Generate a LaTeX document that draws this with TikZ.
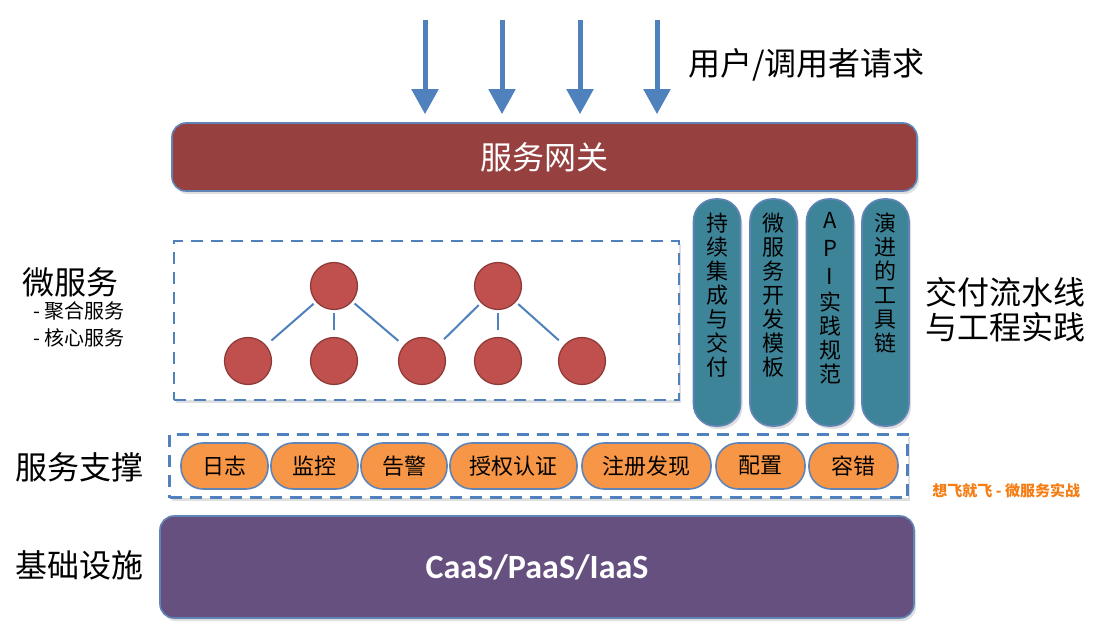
\documentclass[tikz,border=0pt]{standalone}
\usepackage{fontspec}
\setmainfont{Noto Sans CJK SC}
\newfontfamily\capfont{Carlito}
\usetikzlibrary{positioning, arrows.meta, shadows}
\definecolor{reqblue}{RGB}{79,129,189}
\definecolor{edgeblue}{RGB}{96,132,182}
\definecolor{gatered}{RGB}{150,64,64}
\definecolor{svcred}{RGB}{192,80,77}
\definecolor{svcdark}{RGB}{140,56,54}
\definecolor{laneteal}{RGB}{62,132,152}
\definecolor{toolorange}{RGB}{247,150,70}
\definecolor{infrapurple}{RGB}{101,80,127}
\definecolor{markorange}{RGB}{245,125,20}
\begin{document}
\begin{tikzpicture}[x = 0.5pt, y = -0.5pt,
    soft/.style = {drop shadow = {opacity = 0.25, shadow xshift = 1pt, shadow yshift = -1.5pt}},
    req/.style = {draw = reqblue, line width = 2.5pt, -{Triangle[width = 13pt, length = 12.5pt]}, shorten > = 4pt},
    gateway/.style = {soft, rounded corners = 7pt, fill = gatered, draw = edgeblue, line width = 0.8pt, text = white, font = \fontsize{16pt}{18pt}\selectfont},
    dashbox/.style = {soft, draw = reqblue, fill = white, line width = 1.1pt, dash pattern = on 6pt off 4pt},
    svc/.style = {circle, fill = svcred, draw = svcdark, line width = 0.6pt, minimum size = 23.5pt, inner sep = 0pt},
    link/.style = {draw = reqblue, line width = 1pt, shorten < = 1.5pt, shorten > = 3.5pt},
    lane/.style = {soft, rounded corners = 11pt, fill = laneteal, draw = edgeblue, line width = 0.8pt, minimum width = 23.5pt, minimum height = 113.5pt},
    lanetext/.style = {font = \fontsize{11pt}{12pt}\selectfont, align = center, inner sep = 0pt},
    tool/.style = {rounded corners = 11pt, fill = toolorange, draw = edgeblue, line width = 0.8pt, minimum height = 23pt, inner sep = 0pt, font = \fontsize{11pt}{13pt}\selectfont},
    infra/.style = {soft, rounded corners = 7pt, fill = infrapurple, draw = edgeblue, line width = 0.8pt, text = white, font = \capfont\bfseries\fontsize{17pt}{20pt}\selectfont},
    lbl/.style = {anchor = west, inner sep = 0pt, font = \fontsize{16pt}{17.5pt}\selectfont},
    sublbl/.style = {anchor = west, inner sep = 0pt, font = \fontsize{10pt}{12pt}\selectfont}]
    \useasboundingbox (0,0) rectangle (1100,626);
    % requests and gateway
    \node [gateway, minimum width = 372.5pt, minimum height = 34pt] (gw) at (544.5,157) {服务网关};
    \coordinate (u1) at (425,20);
    \coordinate (u2) at (502,20);
    \coordinate (u3) at (580,20);
    \coordinate (u4) at (657,20);
    \draw [req] (u1) -- (u1 |- gw.north);
    \draw [req] (u2) -- (u2 |- gw.north);
    \draw [req] (u3) -- (u3 |- gw.north);
    \draw [req] (u4) -- (u4 |- gw.north);
    \node [lbl] (reqlbl) at (688,65) {用户/调用者请求};
    % microservices
    \node [dashbox, minimum width = 252.5pt, minimum height = 79.5pt] (msbox) at (426.5,320.5) {};
    \node [svc] (agg1) at (334,286) {};
    \node [svc] (agg2) at (498,286) {};
    \node [svc] (core1) at (248,361) {};
    \node [svc] (core2) at (334,361) {};
    \node [svc] (core3) at (422,361) {};
    \node [svc] (core4) at (498,361) {};
    \node [svc] (core5) at (582,361) {};
    \draw [link] (agg1) -- (core1);
    \draw [link] (agg1) -- (core2);
    \draw [link] (agg1) -- (core3);
    \draw [link] (agg2) -- (core3);
    \draw [link] (agg2) -- (core4);
    \draw [link] (agg2) -- (core5);
    \node [lbl] (mslbl) at (22,282) {微服务};
    \node [sublbl] (agglbl) at (33,311) {- 聚合服务};
    \node [sublbl] (corelbl) at (33,338) {- 核心服务};
    % delivery lanes
    \node [lane] (ci) at (717,312.5) {};
    \node [lane] (tpl) at (773.5,312.5) {};
    \node [lane] (api) at (830,312.5) {};
    \node [lane] (chain) at (885.5,312.5) {};
    \node [lanetext, below = 7pt of ci.north] (citext) {持\\续\\集\\成\\与\\交\\付};
    \node [lanetext, below = 7pt of tpl.north] (tpltext) {微\\服\\务\\开\\发\\模\\板};
    \node [lanetext, below = 7pt of api.north] (apitext) {A\\[2pt]P\\[2pt]I\\[1pt]实\\践\\规\\范};
    \node [lanetext, below = 7pt of chain.north] (chaintext) {演\\进\\的\\工\\具\\链};
    \node [lbl, align = left] (lanelbl) at (925,310) {交付流水线\\与工程实践};
    % service support
    \node [dashbox, minimum width = 369pt, minimum height = 31.5pt] (supbox) at (538.5,466) {};
    \node [tool, minimum width = 43.5pt] (log) at (224.5,466) {日志};
    \node [tool, minimum width = 43.5pt] (mon) at (314.5,466) {监控};
    \node [tool, minimum width = 43pt] (alert) at (404,466) {告警};
    \node [tool, minimum width = 63.5pt] (auth) at (513.5,466) {授权认证};
    \node [tool, minimum width = 64.5pt] (reg) at (646.5,466) {注册发现};
    \node [tool, minimum width = 44.5pt] (conf) at (760.5,466) {配置};
    \node [tool, minimum width = 44.5pt] (fault) at (853.5,466) {容错};
    \node [lbl] (suplbl) at (15,467) {服务支撑};
    \node [anchor = west, inner sep = 0pt, text = markorange, font = \fontsize{7.5pt}{9pt}\selectfont\bfseries] (mark) at (932,491) {想飞就飞 - 微服务实战};
    % infrastructure
    \node [infra, minimum width = 377pt, minimum height = 51pt] (base) at (537,567) {CaaS/PaaS/IaaS};
    \node [lbl] (baselbl) at (15,565) {基础设施};
\end{tikzpicture}
\end{document}
